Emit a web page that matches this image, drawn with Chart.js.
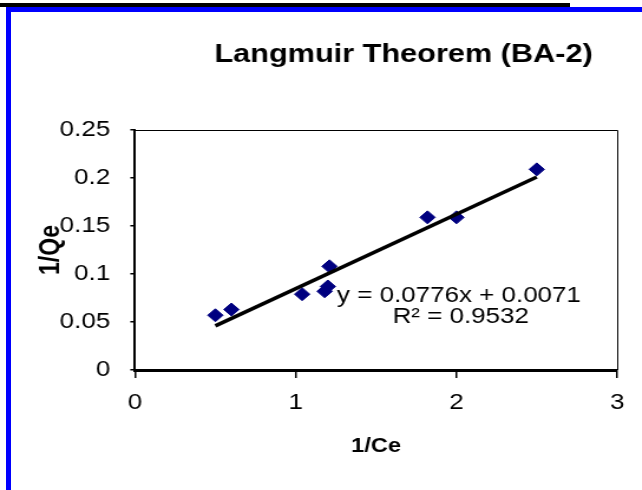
<!DOCTYPE html>
<html>
<head>
<meta charset="utf-8">
<script src="https://cdn.jsdelivr.net/npm/chart.js@4.4.0/dist/chart.umd.min.js"></script>
<style>
  html, body { margin: 0; padding: 0; background: #fff; overflow: hidden; }
  #page { position: relative; width: 642px; height: 490px; }
  #capline { position: absolute; left: 0; top: 3px; width: 570px; height: 4px; background: #000; }
  #frameTop { position: absolute; left: 6px; top: 7px; width: 636px; height: 5px; background: #0000ff; }
  #frameLeft { position: absolute; left: 6px; top: 7px; width: 5px; height: 483px; background: #0000ff; }
  /* the original picture is stretched sideways, so the chart is drawn narrow and scaled */
  #wrap { position: absolute; left: 0; top: 0; width: 544px; height: 490px; transform: scaleX(1.18); transform-origin: 0 0; }
</style>
</head>
<body>
<div id="page">
  <div id="wrap"><canvas id="chart" width="544" height="490"></canvas></div>
  <div id="capline"></div>
  <div id="frameTop"></div>
  <div id="frameLeft"></div>
</div>
<script>
// Data
const xValues = [0.50, 0.60, 1.04, 1.18, 1.20, 1.21, 1.82, 2.00, 2.50];
const yValues = [0.057, 0.063, 0.079, 0.082, 0.087, 0.108, 0.159, 0.159, 0.209];

// Trendline ends (as drawn in the picture)
const trendX = [0.5, 2.5];
const trendY = [0.046, 0.201];

const xTickLabels = ['0', '1', '2', '3'];
const yTickLabels = ['0', '0.05', '0.1', '0.15', '0.2', '0.25'];

const chartTitle = 'Langmuir Theorem (BA-2)';
const xTitle = '1/Ce';
const yTitle = '1/Qe';
const equationLines = ['y = 0.0776x + 0.0071', 'R\u00b2 = 0.9532'];

const FONT = "'Liberation Sans', Arial, sans-serif";

// Helper: title, equation and the thin top/right frame of the plot area
const extras = {
  id: 'extras',
  afterDatasetsDraw(chart) {
    const { ctx, chartArea: a } = chart;
    ctx.save();
    ctx.strokeStyle = '#000';
    ctx.lineWidth = 1;
    ctx.beginPath();
    ctx.moveTo(a.left, a.top + 0.5);
    ctx.lineTo(a.right + 0.5, a.top + 0.5);
    ctx.lineTo(a.right + 0.5, a.bottom);
    ctx.stroke();

    ctx.fillStyle = '#000';
    ctx.textBaseline = 'alphabetic';
    ctx.font = 'bold 26px ' + FONT;
    ctx.textAlign = 'center';
    ctx.fillText(chartTitle, 342, 62);

    ctx.font = '22px ' + FONT;
    ctx.textAlign = 'left';
    ctx.fillText(equationLines[0], 285.6, 301.5);
    ctx.textAlign = 'center';
    ctx.fillText(equationLines[1], 390.5, 323.3);
    ctx.restore();
  }
};

const points = xValues.map((x, i) => ({ x: x, y: yValues[i] }));
const trend = trendX.map((x, i) => ({ x: x, y: trendY[i] }));

new Chart(document.getElementById('chart').getContext('2d'), {
  type: 'scatter',
  data: {
    datasets: [
      {
        label: 'Linear',
        data: trend,
        showLine: true,
        borderColor: '#000',
        borderWidth: 3.5,
        pointRadius: 0,
        fill: false
      },
      {
        label: '1/Qe',
        data: points,
        pointStyle: 'rectRot',
        pointRadius: 6.5,
        pointHoverRadius: 6.5,
        backgroundColor: '#000080',
        borderColor: '#000080',
        borderWidth: 1
      }
    ]
  },
  options: {
    responsive: false,
    animation: false,
    devicePixelRatio: 1,
    layout: { padding: { left: 0, right: 21, top: 130, bottom: 20 } },
    plugins: {
      legend: { display: false },
      title: { display: false },
      tooltip: { enabled: false }
    },
    scales: {
      x: {
        type: 'linear',
        min: 0,
        max: 3,
        ticks: {
          stepSize: 1,
          padding: 12,
          color: '#000',
          font: { family: FONT, size: 22 },
          callback: (v, i) => xTickLabels[i]
        },
        grid: { drawOnChartArea: false, drawTicks: true, tickLength: 8, color: '#000', lineWidth: 1.5 },
        border: { display: true, color: '#000', width: 3 },
        title: {
          display: true,
          text: xTitle,
          color: '#000',
          font: { family: FONT, size: 20, weight: 'bold' },
          padding: { top: 0, bottom: 12 }
        },
        afterFit(s) { s.height = 100; }
      },
      y: {
        type: 'linear',
        min: 0,
        max: 0.25,
        ticks: {
          stepSize: 0.05,
          padding: 17,
          color: '#000',
          font: { family: FONT, size: 22 },
          callback: (v, i) => yTickLabels[i]
        },
        grid: { drawOnChartArea: false, drawTicks: true, tickLength: 4, color: '#000', lineWidth: 1.5 },
        border: { display: true, color: '#000', width: 2 },
        title: {
          display: true,
          text: yTitle,
          color: '#000',
          font: { family: FONT, size: 23, weight: 'bold' },
          padding: { top: 30, bottom: 0 }
        },
        afterFit(s) { s.width = 114.4; }
      }
    }
  },
  plugins: [extras]
});
</script>
</body>
</html>
